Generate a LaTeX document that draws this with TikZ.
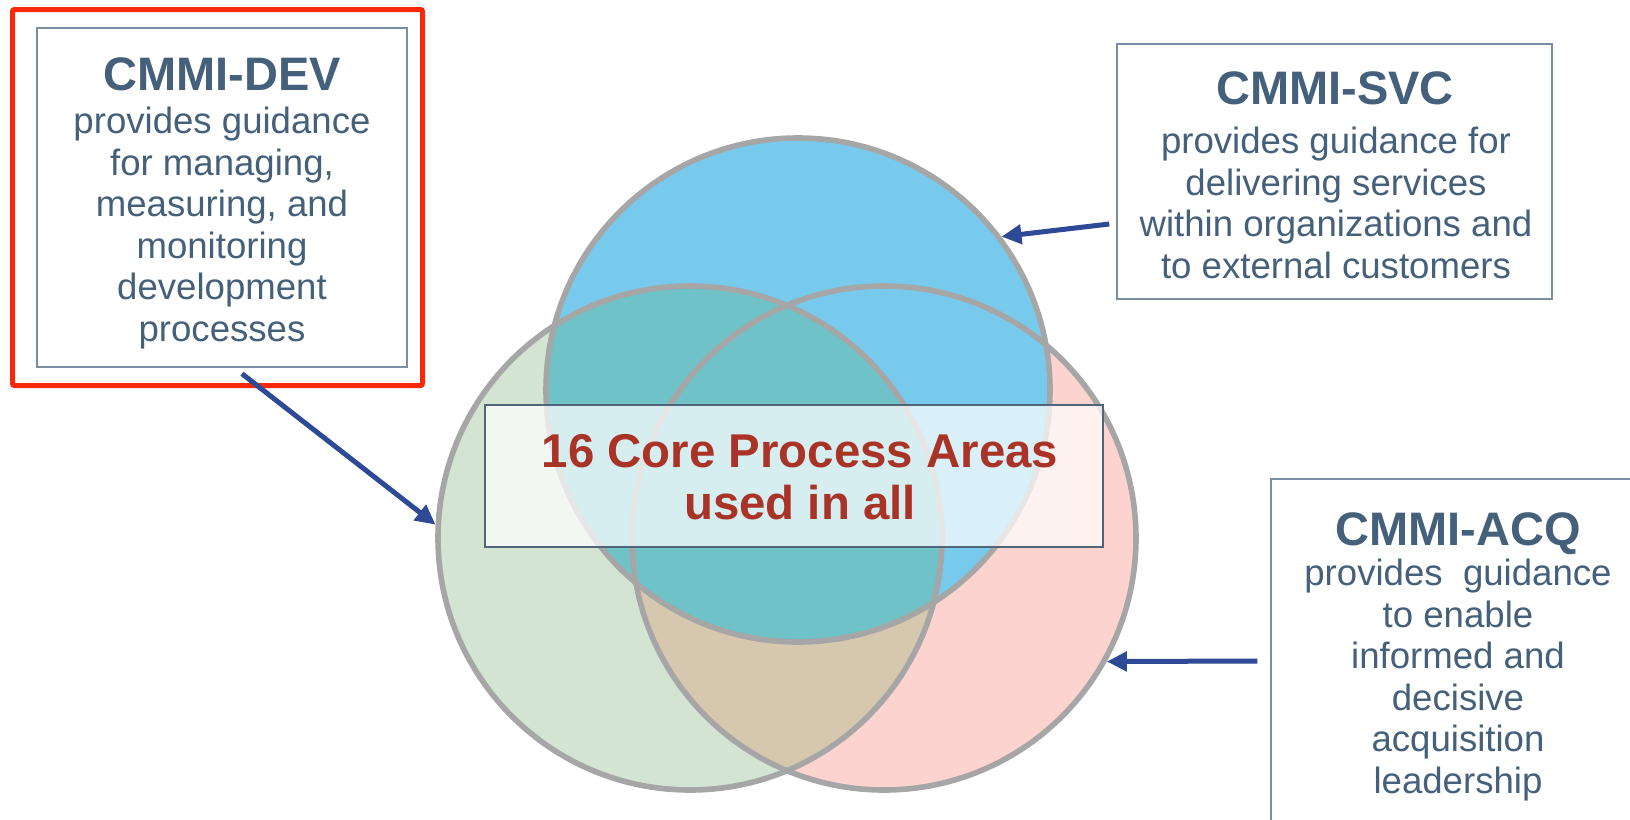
\documentclass[tikz,border=0pt]{standalone}
\usepackage{fontspec}
\setmainfont{Liberation Sans}
\usetikzlibrary{calc,arrows.meta}
\definecolor{txt}{RGB}{69,96,122}
\definecolor{boxline}{RGB}{122,142,162}
\definecolor{coreline}{RGB}{80,100,122}
\definecolor{arrowblue}{RGB}{46,74,150}
\definecolor{cblue}{RGB}{120,202,237}
\definecolor{cgreen}{RGB}{211,229,210}
\definecolor{cpink}{RGB}{252,211,207}
\definecolor{ctan}{RGB}{214,200,175}
\definecolor{cteal}{RGB}{111,194,199}
\definecolor{cgray}{RGB}{166,166,166}
\definecolor{redframe}{RGB}{250,40,10}
\definecolor{coretxt}{RGB}{169,51,38}
\begin{document}
\begin{tikzpicture}[x=0.5pt,y=-0.5pt,
  ring/.style={circle,draw=cgray,line width=2.8pt,minimum size=252pt,inner sep=0pt},
  infobox/.style={rectangle,draw=boxline,line width=0.75pt,inner sep=0pt},
  titlenode/.style={anchor=base,text=txt,inner sep=0pt,font=\fontsize{23.5pt}{25pt}\selectfont\bfseries},
  txtnode/.style={anchor=north,align=center,text=txt,font=\fontsize{18.3pt}{20.75pt}\selectfont,inner sep=0pt},
  conn/.style={draw=arrowblue,line width=2.5pt,-{Triangle[length=10pt,width=9.5pt]}}]
\useasboundingbox (0,0) rectangle (1630,820);
\clip (0,0) rectangle (1630,820);
% circle fills
\fill[cpink] (884,538) circle[radius=252];
\fill[cgreen] (690,538) circle[radius=252];
\begin{scope}
  \clip (690,538) circle[radius=252];
  \fill[ctan] (884,538) circle[radius=252];
\end{scope}
\fill[cblue] (798,390) circle[radius=252];
\begin{scope}
  \clip (690,538) circle[radius=252];
  \fill[cteal] (798,390) circle[radius=252];
\end{scope}
% circle outlines
\node[ring] (gC) at (690,538) {};
\node[ring] (pC) at (884,538) {};
\node[ring] (bC) at (798,390) {};
% core box
\node[rectangle,draw=coreline,line width=0.75pt,fill=white,fill opacity=0.72,
  minimum width=309pt,minimum height=71pt] (core) at (794,476) {};
\node[align=center,text=coretxt,inner sep=0pt,
  font=\fontsize{23.7pt}{26pt}\selectfont\bfseries] (coretext) at (800,477)
  {16 Core Process Areas\\used in all};
% info boxes
\draw[redframe,line width=2.5pt,rounded corners=1pt] (12.5,9.5) rectangle (422.5,385.5);
\node[infobox,minimum width=185pt,minimum height=169.5pt] (dev) at (222,197.5) {};
\node[infobox,minimum width=217.5pt,minimum height=127.5pt] (svc) at (1334.5,171.5) {};
\node[infobox,minimum width=187pt,minimum height=190.5pt] (acq) at (1458,669.5) {};
\node[titlenode] (devtitle) at (222,90) {CMMI-DEV};
\node[txtnode] (devtxt) at (222,107) {provides guidance\\for managing,\\measuring, and\\monitoring\\development\\processes};
\node[titlenode] (svctitle) at (1335,104) {CMMI-SVC};
\node[txtnode] (svctxt) at (1336,127) {provides guidance for\\delivering services\\within organizations and\\to external customers};
\node[titlenode] (acqtitle) at (1458,545) {CMMI-ACQ};
\node[txtnode] (acqtxt) at (1458,559) {provides~ guidance\\to enable\\informed and\\decisive\\acquisition\\leadership};
% arrows
\draw[conn] ($(dev.south)+(20,6)$) -- (gC.177.5);
\draw[conn] ($(svc.west)+(-7,52.5)$) -- (bC.37);
\draw[conn] ($(acq.west)+(-13,-8.5)$) -- (pC.-29);
\end{tikzpicture}
\end{document}
